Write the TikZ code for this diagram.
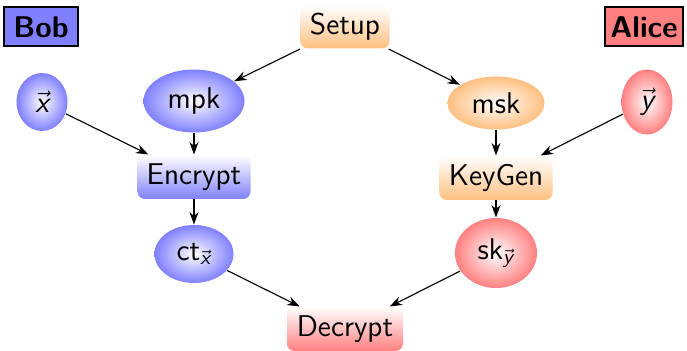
\documentclass[tikz,border=0pt]{standalone}
\usepackage{amsmath}
\usetikzlibrary{shapes.geometric,arrows.meta,shadings}
\newcommand{\sfv}[1]{\vec{\text{\sffamily\itshape #1}}}
\begin{document}
\begin{tikzpicture}[x=0.4pt,y=-0.4pt,
  every node/.style={font=\sffamily\fontsize{12}{14}\selectfont, inner sep=0pt},
  rbox/.style={rectangle, rounded corners=3pt, top color=white, bottom color=#1!50, minimum height=17.2pt},
  oval/.style={ellipse, inner color=white, outer color=#1!50},
  party/.style={rectangle, draw=black, thick, fill=#1!50, font=\sffamily\bfseries\fontsize{12}{14}\selectfont, minimum height=15.6pt},
  arr/.style={-{Stealth[length=5pt,width=3.6pt]}, black, line width=0.45pt}]
\useasboundingbox (0,0) rectangle (687,351);
\node[party=blue, minimum width=29.2pt] (bob) at (41,27) {Bob};
\node[party=red, minimum width=31.2pt] (alice) at (644,27) {Alice};
\node[rbox=orange, minimum width=35.6pt] (setup) at (345,27) {Setup};
\node[oval=blue, minimum width=40.4pt, minimum height=25.2pt] (mpk) at (194,101) {mpk};
\node[oval=orange, minimum width=38.8pt, minimum height=21.2pt] (msk) at (496,103) {msk};
\node[oval=blue, minimum width=20.4pt, minimum height=23.2pt] (x) at (42,102) {$\sfv{x}$};
\node[oval=red, minimum width=20.4pt, minimum height=26pt] (y) at (647,102) {$\sfv{y}$};
\node[rbox=blue, minimum width=45.2pt, minimum height=17.6pt] (enc) at (194,177) {Encrypt};
\node[rbox=orange, minimum width=45.2pt, minimum height=17.6pt] (kg) at (496,178) {KeyGen};
\node[oval=blue, minimum width=31.6pt, minimum height=23.2pt] (ct) at (194,254) {ct$_{\sfv{x}}$};
\node[oval=red, minimum width=32.8pt, minimum height=28pt] (sk) at (496,253) {sk$_{\sfv{y}}$};
\node[rbox=red, minimum width=46.4pt, minimum height=17.6pt] (dec) at (345,329) {Decrypt};
\draw[arr] (setup) -- (mpk);
\draw[arr] (setup) -- (msk);
\draw[arr] (mpk) -- (enc);
\draw[arr] (x) -- (enc);
\draw[arr] (msk) -- (kg);
\draw[arr] (y) -- (kg);
\draw[arr] (enc) -- (ct);
\draw[arr] (kg) -- (sk);
\draw[arr] (ct) -- (dec);
\draw[arr] (sk) -- (dec);
\end{tikzpicture}
\end{document}
